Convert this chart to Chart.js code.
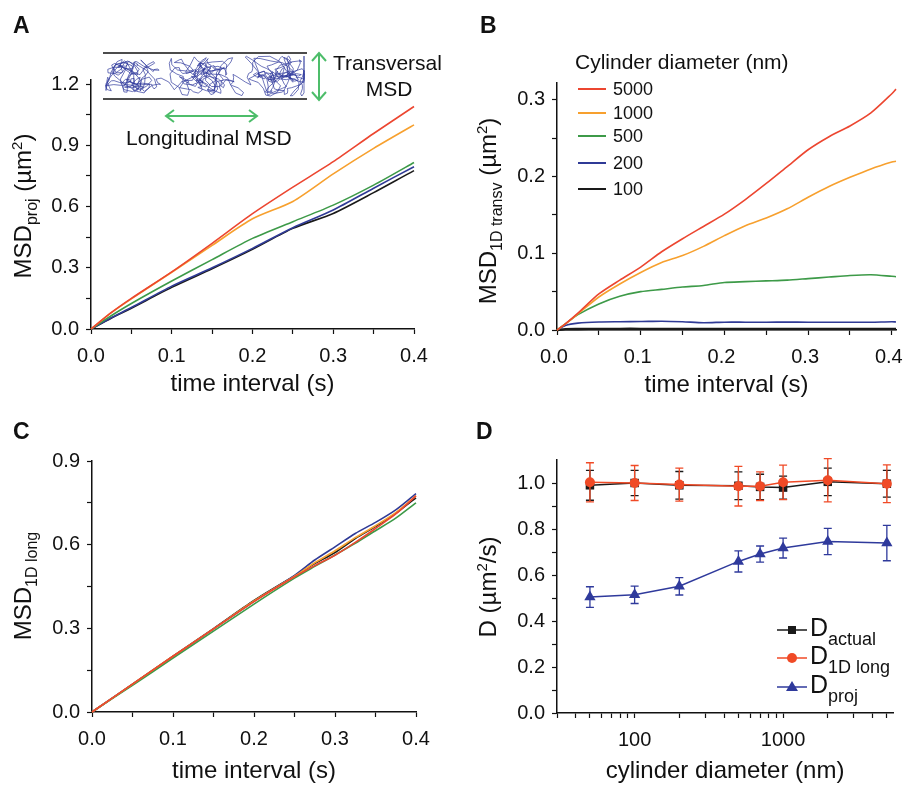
<!DOCTYPE html>
<html>
<head>
<meta charset="utf-8">
<script src="https://cdn.jsdelivr.net/npm/chart.js@4.4.1/dist/chart.umd.min.js"></script>
<style>
  body { margin: 0; background: #fff; font-family: "Liberation Sans", Arial, sans-serif; color: #111; }
  #page { position: relative; width: 904px; height: 786px; overflow: hidden; }
  #page canvas { position: absolute; left: 0; top: 0; }
  .txt { position: absolute; white-space: nowrap; line-height: 1; }
  .ytitle { font-size: 24px; transform: translate(-50%, -50%) rotate(-90deg); }
  .sub { font-size: 16px; position: relative; top: 6px; }
  .sup { font-size: 15px; position: relative; top: -9px; }
  .letter { font-weight: bold; font-size: 23px; }
  #overlay { position: absolute; left: 0; top: 0; }
</style>
</head>
<body>
<div id="page">
  <canvas id="chartA" width="904" height="786"></canvas>
  <canvas id="chartB" width="904" height="786"></canvas>
  <canvas id="chartC" width="904" height="786"></canvas>
  <canvas id="chartD" width="904" height="786"></canvas>
  <svg id="overlay" width="904" height="786"></svg>

  <div class="txt letter" style="left:13px;top:14px">A</div>
  <div class="txt letter" style="left:480px;top:14px">B</div>
  <div class="txt letter" style="left:13px;top:420px">C</div>
  <div class="txt letter" style="left:476px;top:420px">D</div>

  <div class="txt ytitle" style="left:23px;top:206px">MSD<span class="sub">proj</span> (µm<span class="sup">2</span>)</div>
  <div class="txt ytitle" style="left:488px;top:211px">MSD<span class="sub">1D transv</span> (µm<span class="sup">2</span>)</div>
  <div class="txt ytitle" style="left:23px;top:586px">MSD<span class="sub">1D long</span></div>
  <div class="txt ytitle" style="left:488px;top:587px">D (µm<span class="sup">2</span>/s)</div>

  <div class="txt" style="left:333px;top:52px;font-size:21px">Transversal</div>
  <div class="txt" style="left:389px;top:78px;font-size:21px;transform:translateX(-50%)">MSD</div>
  <div class="txt" style="left:126px;top:127px;font-size:21px">Longitudinal MSD</div>

  <div class="txt" style="left:575px;top:51px;font-size:21px">Cylinder diameter (nm)</div>
  <div id="legendB"></div>
  <div id="legendD"></div>
</div>

<script>
// ---- data ----
const diameterLabels = ['5000', '1000', '500', '200', '100'];
const lineColors = ['#ec4630', '#f7a02e', '#3d9a48', '#2f3a96', '#1a1a1a'];

// panel A: projected MSD
const timeA = [0, 0.025, 0.05, 0.1, 0.15, 0.2, 0.25, 0.3, 0.35, 0.4, 0.405];
const projD5000 = [0, 0.08, 0.15, 0.28, 0.42, 0.565, 0.695, 0.82, 0.958, 1.09, 1.105];
const projD1000 = [0, 0.08, 0.148, 0.278, 0.41, 0.54, 0.625, 0.76, 0.885, 1.0, 1.01];
const projD500 = [0, 0.065, 0.125, 0.235, 0.34, 0.444, 0.526, 0.607, 0.705, 0.816, 0.828];
const projD200 = [0, 0.055, 0.105, 0.21, 0.3, 0.395, 0.496, 0.583, 0.69, 0.795, 0.803];
const projD100 = [0, 0.053, 0.102, 0.204, 0.295, 0.39, 0.493, 0.566, 0.668, 0.776, 0.784];

// panel B: 1D transversal MSD
const timeB = [0, 0.01, 0.025, 0.05, 0.075, 0.1, 0.125, 0.15, 0.175, 0.2, 0.225, 0.25, 0.275, 0.3, 0.325, 0.35, 0.375, 0.4, 0.405];
const transD5000 = [0, 0.008, 0.022, 0.047, 0.065, 0.082, 0.102, 0.119, 0.135, 0.151, 0.17, 0.191, 0.213, 0.235, 0.252, 0.266, 0.283, 0.308, 0.314];
const transD1000 = [0, 0.008, 0.021, 0.043, 0.06, 0.075, 0.088, 0.097, 0.109, 0.123, 0.136, 0.146, 0.158, 0.173, 0.187, 0.199, 0.21, 0.219, 0.22];
const transD500 = [0, 0.008, 0.02, 0.034, 0.044, 0.05, 0.053, 0.056, 0.058, 0.062, 0.063, 0.064, 0.065, 0.067, 0.069, 0.071, 0.072, 0.07, 0.0695];
const transD200 = [0, 0.006, 0.009, 0.0105, 0.0108, 0.011, 0.0115, 0.0108, 0.0095, 0.0102, 0.0102, 0.0102, 0.0103, 0.0102, 0.0102, 0.0102, 0.0102, 0.0108, 0.0105];
const transD100 = [0, 0.001, 0.0012, 0.0013, 0.0014, 0.0014, 0.0014, 0.0014, 0.0014, 0.0014, 0.0014, 0.0014, 0.0014, 0.0014, 0.0014, 0.0014, 0.0014, 0.0014, 0.0014];

// panel C: 1D longitudinal MSD
const timeC = [0, 0.05, 0.1, 0.15, 0.2, 0.25, 0.275, 0.3, 0.325, 0.35, 0.375, 0.4, 0.405];
const longD5000 = [0, 0.1, 0.2, 0.298, 0.396, 0.485, 0.525, 0.562, 0.608, 0.658, 0.71, 0.775, 0.789];
const longD1000 = [0, 0.1, 0.2, 0.298, 0.398, 0.487, 0.535, 0.578, 0.625, 0.668, 0.715, 0.776, 0.79];
const longD500 = [0, 0.096, 0.193, 0.29, 0.387, 0.48, 0.522, 0.563, 0.605, 0.65, 0.695, 0.75, 0.76];
const longD200 = [0, 0.099, 0.198, 0.297, 0.397, 0.49, 0.545, 0.592, 0.64, 0.68, 0.725, 0.783, 0.792];
const longD100 = [0, 0.1, 0.2, 0.299, 0.4, 0.488, 0.532, 0.572, 0.622, 0.665, 0.712, 0.768, 0.78];

// panel D: diffusion coefficients vs cylinder diameter
const diameters = [50, 100, 200, 500, 700, 1000, 2000, 5000];
const dActual = [0.99, 1.0, 0.99, 0.988, 0.983, 0.98, 1.005, 0.997];
const dActualErr = [0.065, 0.055, 0.06, 0.06, 0.055, 0.05, 0.06, 0.058];
const d1DLong = [1.003, 1.0, 0.993, 0.986, 0.986, 1.003, 1.012, 0.997];
const d1DLongErr = [0.085, 0.076, 0.072, 0.086, 0.062, 0.075, 0.094, 0.082];
const dProj = [0.504, 0.514, 0.551, 0.659, 0.691, 0.717, 0.746, 0.739];
const dProjErr = [0.045, 0.038, 0.038, 0.046, 0.035, 0.043, 0.057, 0.077];

// tick positions
const timeTicks = [0, 0.05, 0.1, 0.15, 0.2, 0.25, 0.3, 0.35, 0.4];
const projTicks = [0, 0.15, 0.3, 0.45, 0.6, 0.75, 0.9, 1.05, 1.2];
const transTicks = [0, 0.05, 0.1, 0.15, 0.2, 0.25, 0.3];
const longTicks = [0, 0.15, 0.3, 0.45, 0.6, 0.75, 0.9];
const dTicks = [0, 0.1, 0.2, 0.3, 0.4, 0.5, 0.6, 0.7, 0.8, 0.9, 1.0];
const diamTicks = [30, 40, 50, 60, 70, 80, 90, 100, 200, 300, 400, 500, 600, 700, 800, 900, 1000, 2000, 3000, 4000, 5000];
const diamLabels = [100, 1000];

Chart.defaults.font.family = '"Liberation Sans", Arial, sans-serif';
Chart.defaults.color = '#111';
Chart.defaults.animation = false;

const isMult = (v, step) => Math.abs(v / step - Math.round(v / step)) < 1e-6;

function axis(o) {
  return {
    type: o.type || 'linear',
    position: o.position,
    min: o.min,
    max: o.max,
    border: { display: true, color: '#111', width: 1.5 },
    grid: { display: true, drawOnChartArea: false, drawTicks: true, tickLength: 5, tickColor: '#111', tickWidth: 1.2 },
    ticks: {
      autoSkip: false, maxRotation: 0, minRotation: 0,
      padding: o.position === 'bottom' ? 10 : 7,
      labelOffset: o.shift || 0,
      color: '#111', font: { size: 20 },
      callback: o.label
    },
    afterBuildTicks: s => { s.ticks = o.ticks.map(v => ({ value: v })); },
    afterFit: s => {
      if (o.position === 'bottom') s.height = o.size; else s.width = o.size;
      s.paddingLeft = 0; s.paddingRight = 0; s.paddingTop = 0; s.paddingBottom = 0;
    },
    title: o.title
      ? { display: true, text: o.title, color: '#111', font: { size: 24 }, padding: 0 }
      : { display: false }
  };
}

function curves(xs, series, widths) {
  return series.map((ys, i) => ({
    label: diameterLabels[i],
    data: xs.map((x, j) => ({ x: x, y: ys[j] })),
    borderColor: lineColors[i],
    backgroundColor: lineColors[i],
    borderWidth: widths ? widths[i] : 1.6,
    pointRadius: 0,
    tension: 0.25,
    clip: false
  }));
}

const baseOptions = (pad, scales) => ({
  responsive: false,
  layout: { padding: pad },
  plugins: { legend: { display: false }, tooltip: { enabled: false } },
  events: [],
  scales: scales
});

// A
new Chart(document.getElementById('chartA'), {
  type: 'line',
  data: { datasets: curves(timeA, [projD5000, projD1000, projD500, projD200, projD100]) },
  options: baseOptions({ left: 31, top: 80, right: 490, bottom: 387 }, {
    x: axis({ position: 'bottom', min: 0, max: 0.4, ticks: timeTicks, size: 70, title: 'time interval (s)',
      label: v => isMult(v, 0.1) ? v.toFixed(1) : '' }),
    y: axis({ position: 'left', min: 0, max: 1.22, ticks: projTicks, size: 60,
      label: v => isMult(v, 0.3) ? v.toFixed(1) : '' })
  })
});

// B
new Chart(document.getElementById('chartB'), {
  type: 'line',
  data: { datasets: curves(timeB, [transD5000, transD1000, transD500, transD200, transD100], [1.6, 1.6, 1.6, 1.6, 2.6]) },
  options: baseOptions({ left: 497, top: 83, right: 8, bottom: 386 }, {
    x: axis({ position: 'bottom', min: 0, max: 0.405, ticks: timeTicks, size: 70, shift: -3, title: 'time interval (s)',
      label: v => isMult(v, 0.1) ? v.toFixed(1) : '' }),
    y: axis({ position: 'left', min: 0, max: 0.322, ticks: transTicks, size: 60,
      label: v => isMult(v, 0.1) ? v.toFixed(1) : '' })
  })
});

// C
new Chart(document.getElementById('chartC'), {
  type: 'line',
  data: { datasets: curves(timeC, [longD5000, longD1000, longD500, longD200, longD100]) },
  options: baseOptions({ left: 32, top: 461, right: 488, bottom: 0 }, {
    x: axis({ position: 'bottom', min: 0, max: 0.4, ticks: timeTicks, size: 74, title: 'time interval (s)',
      label: v => isMult(v, 0.1) ? v.toFixed(1) : '' }),
    y: axis({ position: 'left', min: 0, max: 0.9, ticks: longTicks, size: 60,
      label: v => isMult(v, 0.3) ? v.toFixed(1) : '' })
  })
});

// D with error bars
const errorBars = {
  id: 'errorBars',
  beforeDatasetDraw(chart, args) {
    const ds = chart.data.datasets[args.index];
    if (!ds.errors) return;
    const y = chart.scales.y;
    const ctx = chart.ctx;
    ctx.save();
    ctx.strokeStyle = ds.borderColor;
    ctx.lineWidth = 1.3;
    args.meta.data.forEach((pt, i) => {
      const v = ds.data[i].y, e = ds.errors[i];
      const top = y.getPixelForValue(v + e), bot = y.getPixelForValue(v - e);
      ctx.beginPath();
      ctx.moveTo(pt.x, top); ctx.lineTo(pt.x, bot);
      ctx.moveTo(pt.x - 4, top); ctx.lineTo(pt.x + 4, top);
      ctx.moveTo(pt.x - 4, bot); ctx.lineTo(pt.x + 4, bot);
      ctx.stroke();
    });
    ctx.restore();
  }
};

const dSeries = [
  { label: 'D actual', values: dActual, errors: dActualErr, color: '#1a1a1a', style: 'rect', radius: 6, order: 2 },
  { label: 'D 1D long', values: d1DLong, errors: d1DLongErr, color: '#f04a26', style: 'circle', radius: 5, order: 1 },
  { label: 'D proj', values: dProj, errors: dProjErr, color: '#2f3a9c', style: 'triangle', radius: 6.5, order: 3 }
];

new Chart(document.getElementById('chartD'), {
  type: 'line',
  data: {
    datasets: dSeries.map(s => ({
      label: s.label,
      data: diameters.map((d, i) => ({ x: d, y: s.values[i] })),
      errors: s.errors,
      borderColor: s.color,
      backgroundColor: s.color,
      borderWidth: 1.5,
      pointStyle: s.style,
      pointRadius: s.radius,
      pointBorderWidth: 0,
      tension: 0,
      order: s.order,
      clip: false
    }))
  },
  options: baseOptions({ left: 497, top: 460, right: 11, bottom: 0 }, {
    x: axis({ type: 'logarithmic', position: 'bottom', min: 30, max: 5500, ticks: diamTicks, size: 73,
      title: 'cylinder diameter (nm)', label: v => diamLabels.includes(v) ? String(v) : '' }),
    y: axis({ position: 'left', min: 0, max: 1.1, ticks: dTicks, size: 60,
      label: v => isMult(v, 0.2) ? v.toFixed(1) : '' })
  }),
  plugins: [errorBars]
});

// legend B (built from the series labels and colours)
const legendYs = [89, 113, 136, 163, 189];
document.getElementById('legendB').innerHTML = diameterLabels.map((lab, i) =>
  '<div style="position:absolute;left:578px;top:' + (legendYs[i] - 1) + 'px;width:28px;height:2px;background:' + lineColors[i] + '"></div>' +
  '<div class="txt" style="left:613px;top:' + (legendYs[i] - 9) + 'px;font-size:18px">' + lab + '</div>'
).join('');

// legend D
const dSubs = ['actual', '1D long', 'proj'];
const dLegendYs = [630, 658, 687];
document.getElementById('legendD').innerHTML = dSubs.map((sub, i) =>
  '<div class="txt" style="left:810px;top:' + (dLegendYs[i] - 15) + 'px;font-size:25px">D<span style="font-size:18px;position:relative;top:9px">' + sub + '</span></div>'
).join('');

// overlay: inset sketch in A and legend markers in D
const svgNS = 'http://www.w3.org/2000/svg';
const svg = document.getElementById('overlay');
function el(name, attrs) {
  const e = document.createElementNS(svgNS, name);
  for (const k in attrs) e.setAttribute(k, attrs[k]);
  svg.appendChild(e);
  return e;
}
// cylinder walls
el('line', { x1: 103, y1: 53, x2: 307, y2: 53, stroke: '#111', 'stroke-width': 1.3 });
el('line', { x1: 103, y1: 99, x2: 307, y2: 99, stroke: '#111', 'stroke-width': 1.3 });
// sketch of a confined trajectory (deterministic scribble, three clusters joined by hops)
let path = '';
for (let s = 0; s <= 700; s++) {
  const u = s / 700;
  const k = u * 2.999;
  const f = k - Math.floor(k);
  const hop = f < 0.8 ? 0 : 0.5 - 0.5 * Math.cos(Math.PI * (f - 0.8) / 0.2);
  const base = 128 + 75 * (Math.floor(k) + hop) + 14 * Math.sin(u * 19);
  let x = base + 11 * Math.sin(u * 173) + 7 * Math.sin(u * 411 + 1) + 3 * Math.sin(u * 977 + 2);
  let y = 76 + 11 * Math.sin(u * 131 + 0.5) + 7 * Math.sin(u * 389 + 2) + 3 * Math.sin(u * 853);
  x = Math.max(106, Math.min(304, x));
  y = Math.max(56, Math.min(96, y));
  path += (s ? ' L' : 'M') + x.toFixed(1) + ' ' + y.toFixed(1);
}
el('path', { d: path, fill: 'none', stroke: '#2f3a9c', 'stroke-width': 0.7 });
// green arrows
const green = '#4dbd6a';
el('line', { x1: 319, y1: 54, x2: 319, y2: 99, stroke: green, 'stroke-width': 2 });
el('polyline', { points: '312,61 319,53 326,61', fill: 'none', stroke: green, 'stroke-width': 2 });
el('polyline', { points: '312,92 319,100 326,92', fill: 'none', stroke: green, 'stroke-width': 2 });
el('line', { x1: 167, y1: 116, x2: 256, y2: 116, stroke: green, 'stroke-width': 2 });
el('polyline', { points: '174,110 166,116 174,122', fill: 'none', stroke: green, 'stroke-width': 2 });
el('polyline', { points: '249,110 257,116 249,122', fill: 'none', stroke: green, 'stroke-width': 2 });
// D legend samples
dSeries.forEach((s, i) => {
  const y = dLegendYs[i];
  el('line', { x1: 777, y1: y, x2: 807, y2: y, stroke: s.color, 'stroke-width': 1.5 });
  if (s.style === 'rect') el('rect', { x: 788, y: y - 4, width: 8, height: 8, fill: s.color });
  if (s.style === 'circle') el('circle', { cx: 792, cy: y, r: 5, fill: s.color });
  if (s.style === 'triangle') el('polygon', { points: '792,' + (y - 6) + ' 786,' + (y + 4) + ' 798,' + (y + 4), fill: s.color });
});
</script>
</body>
</html>
